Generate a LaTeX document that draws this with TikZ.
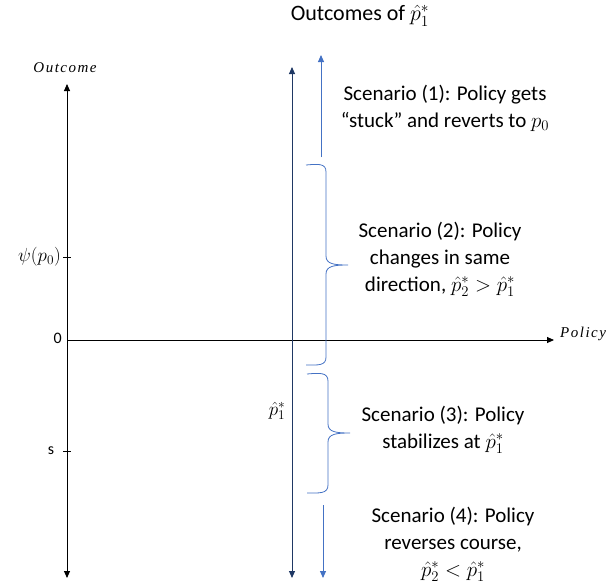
\RequirePackage{fix-cm}
\documentclass[tikz,border=0pt]{standalone}
\usepackage{fontspec}
\setmainfont{Carlito}
\newfontfamily\axisfont[LetterSpace=10]{Liberation Serif}
\usetikzlibrary{arrows.meta}
\definecolor{navy}{HTML}{1F3864}
\definecolor{midblue}{HTML}{4472C4}
\begin{document}
\begin{tikzpicture}[x=1pt,y=-1pt,
  axis/.style={line width=0.9pt,-{Triangle[length=7pt,width=6pt]}},
  dblaxis/.style={line width=0.9pt,{Triangle[length=7pt,width=6pt]}-{Triangle[length=7pt,width=6pt]}},
  txt/.style={font=\fontsize{21}{27}\selectfont,align=center,inner sep=0pt},
  lbl/.style={font=\fontsize{16}{18}\selectfont,inner sep=0pt},
  mlbl/.style={font=\fontsize{19}{21}\selectfont,inner sep=0pt},
  itl/.style={font=\fontsize{15}{17}\selectfont\axisfont\itshape,inner sep=0pt},
  bracestyle/.style={draw=midblue,line width=0.8pt}]
\useasboundingbox (0,0) rectangle (608,582);
% title
\node[font=\fontsize{22}{26}\selectfont,inner sep=0pt] (title) at (360,16) {Outcomes of $\hat{p}_1^*$};
% axes
\coordinate (ytop) at (67,84);
\coordinate (ybot) at (67,578);
\coordinate (xl) at (67,340);
\coordinate (xr) at (554,340);
\draw[dblaxis] (ybot) -- (ytop);
\draw[axis] (xl) -- (xr);
\node[itl] (outcome) at (65,68) {Outcome};
\node[itl,anchor=west] (policy) at (560,334) {Policy};
% ticks
\coordinate (t1a) at (63,257); \coordinate (t1b) at (71,257);
\coordinate (t2a) at (63,451); \coordinate (t2b) at (71,451);
\draw[line width=0.8pt] (t1a) -- (t1b);
\draw[line width=0.8pt] (t2a) -- (t2b);
\node[mlbl,anchor=east] (psi) at (61,257) {$\psi(p_0)$};
\node[lbl,anchor=east] (zero) at (62,338) {0};
\node[lbl] (s) at (51,451) {s};
% navy arrow
\coordinate (ntop) at (292,67);
\coordinate (nbot) at (292,578);
\draw[dblaxis,draw=navy,fill=navy] (nbot) -- (ntop);
\node[mlbl] (phat) at (277,411) {$\hat{p}_1^*$};
% blue arrows
\coordinate (b1s) at (321,157); \coordinate (b1e) at (321,55);
\coordinate (b4s) at (323,505); \coordinate (b4e) at (323,578);
\draw[axis,draw=midblue,fill=midblue] (b1s) -- (b1e);
\draw[axis,draw=midblue,fill=midblue] (b4s) -- (b4e);
% brace 2
\coordinate (br2t) at (306,165);
\coordinate (br2tip) at (348,265);
\coordinate (br2b) at (306,365);
\draw[bracestyle] (br2t) .. controls (318,164) and (326,163) .. (326,172)
  -- (326,256) .. controls (326,264) and (334,265) .. (br2tip)
  .. controls (334,265) and (326,266) .. (326,274)
  -- (326,357) .. controls (326,366) and (318,365) .. (br2b);
% brace 3
\coordinate (br3t) at (307,374);
\coordinate (br3tip) at (350,433);
\coordinate (br3b) at (307,493);
\draw[bracestyle] (br3t) .. controls (319,373) and (328,372) .. (328,381)
  -- (328,424) .. controls (328,432) and (336,433) .. (br3tip)
  .. controls (336,433) and (328,434) .. (328,442)
  -- (328,485) .. controls (328,494) and (319,493) .. (br3b);
% scenario texts
\node[txt] (sc1) at (445,108) {Scenario (1): Policy gets\\``stuck'' and reverts to $p_0$};
\node[txt] (sc2) at (440,259) {Scenario (2): Policy\\changes in same\\direction, $\hat{p}_2^*>\hat{p}_1^*$};
\node[txt] (sc3) at (443,430) {Scenario (3): Policy\\stabilizes at $\hat{p}_1^*$};
\node[txt] (sc4) at (453,544) {Scenario (4): Policy\\reverses course,\\$\hat{p}_2^*<\hat{p}_1^*$};
\end{tikzpicture}
\end{document}
